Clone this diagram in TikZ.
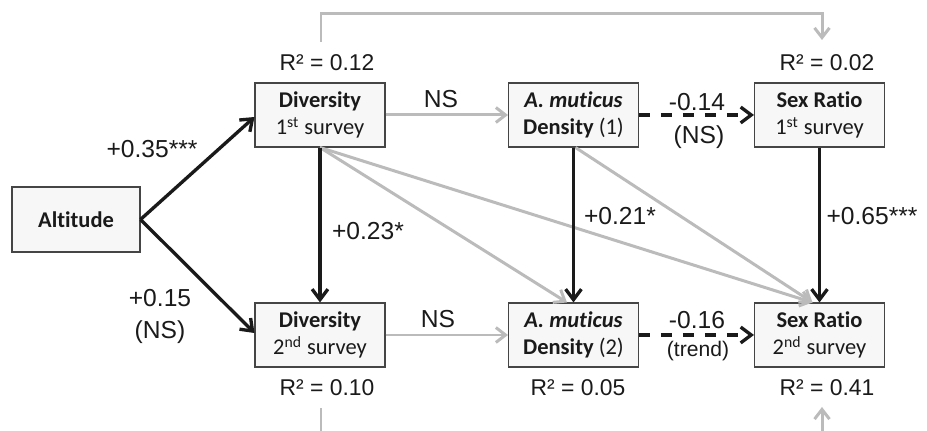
\documentclass[tikz,border=0pt]{standalone}
\usepackage{fontspec}
\setmainfont{Liberation Sans}
\newfontfamily\boxfont[Ligatures={NoCommon}]{Carlito}
\usetikzlibrary{arrows.meta}
\definecolor{inkdark}{HTML}{1A1A1A}
\definecolor{linegray}{HTML}{BBBBBB}
\definecolor{boxfill}{HTML}{F7F7F7}
\definecolor{boxedge}{HTML}{454545}
\tikzset{
	varbox/.style={draw=boxedge, fill=boxfill, line width=0.6pt, minimum width=2.6cm, minimum height=1.28cm,
		inner sep=0pt, align=center, text=inkdark, font=\boxfont\fontsize{12.8}{15.5}\selectfont},
	sigpath/.style={draw=inkdark, line width=1.9pt, -{Straight Barb[length=6pt, width=9pt]}},
	nspath/.style={draw=linegray, line width=1.7pt, -{Straight Barb[length=5.5pt, width=8.5pt]}},
	dashpath/.style={sigpath, dash pattern=on 6.5pt off 6pt},
	coef/.style={text=inkdark, inner sep=0pt, font=\fontsize{14}{16}\selectfont},
	rsq/.style={text=inkdark, inner sep=0pt, font=\fontsize{13}{15}\selectfont}
}
\begin{document}
\begin{tikzpicture}[x=0.02cm, y=-0.02cm]
	\clip (0,0) rectangle (927,431);
	% variables
	\node[varbox, minimum width=2.56cm, minimum height=1.3cm] (alt) at (76,219.5) {\textbf{Altitude}};
	\node[varbox] (div1) at (320,115) {\textbf{Diversity}\\1\textsuperscript{st} survey};
	\node[varbox] (div2) at (320,335) {\textbf{Diversity}\\2\textsuperscript{nd} survey};
	\node[varbox] (dens1) at (573.5,115) {\textbf{\textit{A. muticus}}\\\textbf{Density} (1)};
	\node[varbox] (dens2) at (573.5,335) {\textbf{\textit{A. muticus}}\\\textbf{Density} (2)};
	\node[varbox] (sex1) at (819.5,115) {\textbf{Sex Ratio}\\1\textsuperscript{st} survey};
	\node[varbox] (sex2) at (819.5,335) {\textbf{Sex Ratio}\\2\textsuperscript{nd} survey};
	% explained variance
	\node[rsq] (r2div1) at (327,63) {R² = 0.12};
	\node[rsq] (r2sex1) at (827,63) {R² = 0.02};
	\node[rsq] (r2div2) at (327,388) {R² = 0.10};
	\node[rsq] (r2dens2) at (578,388) {R² = 0.05};
	\node[rsq] (r2sex2) at (827,388) {R² = 0.41};
	% non-significant paths
	\draw[nspath] (div1.east) -- (dens1.west);
	\draw[nspath] (div2.east) -- (dens2.west);
	\draw[nspath] (div1.south) -- ([xshift=-0.13cm]dens2.north);
	\draw[nspath] (div1.south) -- ([xshift=-0.14cm]sex2.north);
	\draw[nspath] ([xshift=0.04cm]dens1.south) -- ([xshift=-0.14cm]sex2.north);
	\coordinate (loopA) at (321,42);
	\coordinate (loopB) at (822,40);
	\coordinate (loopC) at (321,408);
	\coordinate (loopD) at (822,407);
	\draw[nspath] (loopA) -- ++(0,-28) -| (loopB);
	\draw[nspath] (loopC) -- ++(0,40) -| (loopD);
	% significant paths
	\draw[sigpath] (alt.east) -- ([yshift=-0.04cm]div1.west);
	\draw[sigpath] (alt.east) -- ([yshift=0.04cm]div2.west);
	\draw[sigpath] (div1.south) -- (div2.north);
	\draw[sigpath] (dens1.south) -- (dens2.north);
	\draw[sigpath] (sex1.south) -- (sex2.north);
	\draw[dashpath] (dens1.east) -- (sex1.west);
	\draw[dashpath] (dens2.east) -- (sex2.west);
	% coefficients
	\node[coef] (c35) at (152,149) {+0.35***};
	\node[coef] (c15) at (160,298) {+0.15};
	\node[coef] (c15ns) at (160,332) {(NS)};
	\node[coef] (c23) at (368,231) {+0.23*};
	\node[coef] (nstop) at (441,99) {NS};
	\node[coef] (nsbot) at (438,319) {NS};
	\node[coef] (c14) at (697,102) {-0.14};
	\node[coef] (c14ns) at (699,137) {(NS)};
	\node[coef] (c16) at (697,320) {-0.16};
	\node[coef, font=\fontsize{12}{14}\selectfont] (c16tr) at (698,351) {(trend)};
	\node[coef] (c21) at (620,216) {+0.21*};
	\node[coef] (c65) at (872,216) {+0.65***};
\end{tikzpicture}
\end{document}
